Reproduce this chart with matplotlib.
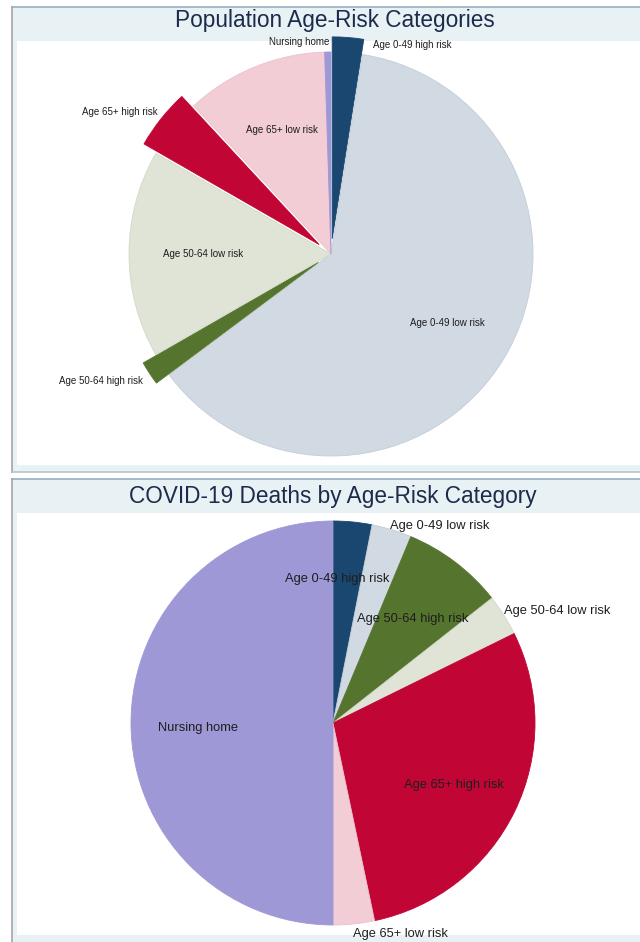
import matplotlib
matplotlib.use("Agg")
import matplotlib.pyplot as plt
from matplotlib.patches import Rectangle
from matplotlib.lines import Line2D

# ---------------- data ----------------
categories = ["Age 0-49 high risk", "Age 0-49 low risk", "Age 50-64 high risk",
              "Age 50-64 low risk", "Age 65+ high risk", "Age 65+ low risk",
              "Nursing home"]
population_share = [2.5, 62.3, 1.9, 16.6, 4.8, 11.4, 0.5]
deaths_share = [3.1, 3.2, 8.1, 3.3, 29.0, 3.3, 50.0]
title_top = "Population Age-Risk Categories"
title_bottom = "COVID-19 Deaths by Age-Risk Category"

# ---------------- style ----------------
colors = ["#1a476f", "#d1dae3", "#55752f", "#dfe4d6", "#c10534", "#f2cdd5", "#9e98d6"]
edge_colors = ["#1a476f", "#c3cdd8", "#55752f", "#d2d9c8", "#c10534", "#ebc2cc", "#9e98d6"]
explode_top = [0.075, 0, 0.075, 0, 0.075, 0, 0]
# label anchors in pie-radius units: (x, y, ha)
labels_top = [(0.208, 1.035, "left"), (0.574, -0.342, "center"), (-0.931, -0.629, "right"),
              (-0.634, 0.0, "center"), (-0.856, 0.703, "right"), (-0.243, 0.614, "center"),
              (-0.01, 1.05, "right")]
labels_bottom = [(0.02, 0.713, "center"), (0.282, 0.975, "left"), (0.396, 0.515, "center"),
                 (0.847, 0.554, "left"), (0.599, -0.307, "center"), (0.332, -1.045, "center"),
                 (-0.668, -0.025, "center")]

W, H = 640, 942
plt.rcParams["font.family"] = ["Liberation Sans", "DejaVu Sans"]
fig = plt.figure(figsize=(W / 100, H / 100), dpi=100)
fig.patch.set_facecolor("white")


def rect(x0, y0, x1, y1, color, z=0):
    fig.add_artist(Rectangle((x0 / W, 1 - y1 / H), (x1 - x0) / W, (y1 - y0) / H,
                             transform=fig.transFigure, facecolor=color,
                             edgecolor="none", zorder=z))


def hline(x0, x1, y, color, lw=1.2):
    fig.add_artist(Line2D([x0 / W, x1 / W], [1 - y / H, 1 - y / H],
                          transform=fig.transFigure, color=color, lw=lw, zorder=1))


def vline(x, y0, y1, color, lw=1.2):
    fig.add_artist(Line2D([x / W, x / W], [1 - y0 / H, 1 - y1 / H],
                          transform=fig.transFigure, color=color, lw=lw, zorder=1))


band = "#e8f1f3"
# top panel
rect(12, 7, 660, 472, band)
rect(17, 41, 660, 465, "white", 0.5)
hline(12, 640, 7, "#95afc4")
vline(12, 7, 472, "#a5a5a5")
hline(12, 640, 472, "#b9c3c9")
# bottom panel
rect(12, 479, 660, 950, band)
rect(17, 513, 660, 935, "white", 0.5)
hline(12, 640, 479, "#95afc4")
vline(12, 479, 950, "#a5a5a5")

fig.text(335 / W, 1 - 21 / H, title_top, ha="center", va="center",
         fontsize=16.3, color="#1c2b4c", zorder=3)
fig.text(333 / W, 1 - 497 / H, title_bottom, ha="center", va="center",
         fontsize=16.3, color="#1c2b4c", zorder=3)


def draw_pie(cx, cy, R, values, explode, lab, fs):
    ax = fig.add_axes([(cx - R) / W, 1 - (cy + R) / H, 2 * R / W, 2 * R / H])
    ax.set_zorder(2)
    wedges, _ = ax.pie(values, colors=colors, explode=explode, startangle=90,
                       counterclock=False, radius=1, normalize=True,
                       wedgeprops=dict(linewidth=0.6))
    for w, ec in zip(wedges, edge_colors):
        w.set_edgecolor(ec)
    ax.set_xlim(-1, 1)
    ax.set_ylim(-1, 1)
    ax.set_aspect("auto")
    ax.axis("off")
    for name, (x, y, ha) in zip(categories, lab):
        ax.text(x, y, name, ha=ha, va="center", fontsize=fs, color="#1e1e1e", clip_on=False)


draw_pie(331, 254, 202, population_share, explode_top, labels_top, 7)
draw_pie(333, 723, 202, deaths_share, None, labels_bottom, 9.3)

fig.savefig("out.png", dpi=100)
